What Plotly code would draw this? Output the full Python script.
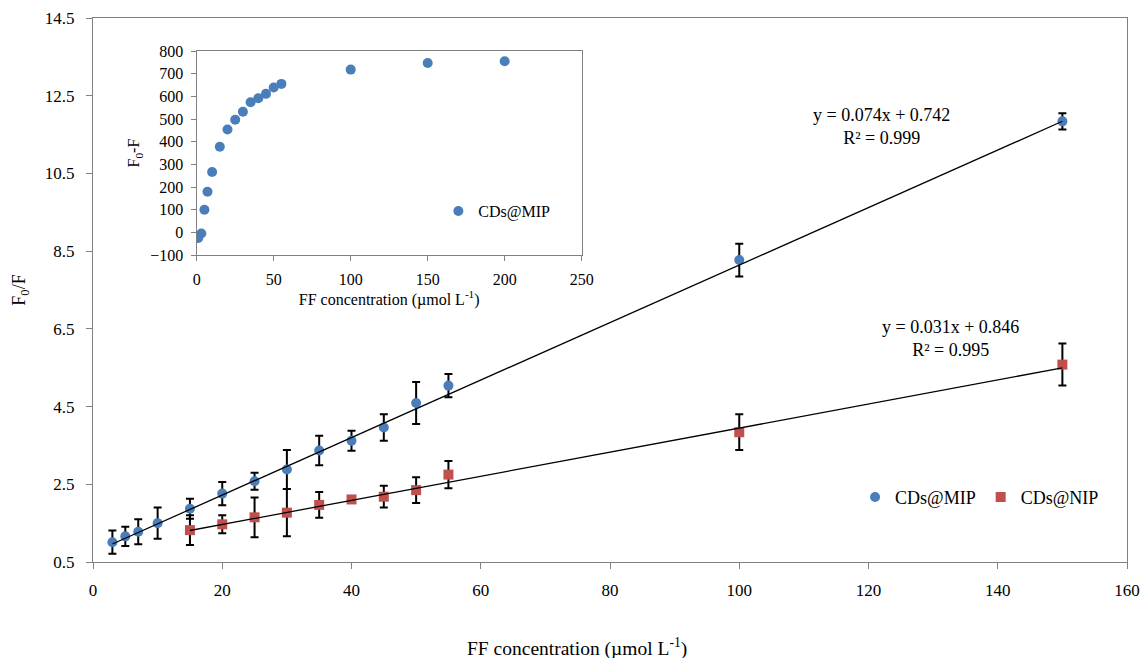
import plotly.graph_objects as go

# ---- main chart data ----
mip_x = [3, 5, 7, 10, 15, 20, 25, 30, 35, 40, 45, 50, 55, 100, 150]
mip_y = [1.01, 1.16, 1.28, 1.50, 1.87, 2.26, 2.58, 2.88, 3.37, 3.62, 3.96, 4.59, 5.04, 8.27, 11.84]
mip_err = [0.30, 0.25, 0.32, 0.40, 0.26, 0.30, 0.22, 0.50, 0.38, 0.26, 0.34, 0.54, 0.30, 0.42, 0.21]

nip_x = [15, 20, 25, 30, 35, 40, 45, 50, 55, 100, 150]
nip_y = [1.32, 1.47, 1.65, 1.77, 1.97, 2.11, 2.18, 2.35, 2.75, 3.84, 5.58]
nip_err = [0.38, 0.23, 0.51, 0.61, 0.33, 0.05, 0.28, 0.33, 0.35, 0.46, 0.54]

mip_fit = (0.074, 0.742)
nip_fit = (0.031, 0.846)

# ---- inset data ----
ins_x = [1, 3, 5, 7, 10, 15, 20, 25, 30, 35, 40, 45, 50, 55, 100, 150, 200]
ins_y = [-25, -5, 100, 179, 266, 378, 454, 497, 532, 574, 592, 611, 639, 655, 718, 747, 755]

x_ticks = [0, 20, 40, 60, 80, 100, 120, 140, 160]
y_ticks = [0.5, 2.5, 4.5, 6.5, 8.5, 10.5, 12.5, 14.5]

BLUE = "#4A7EBB"
RED = "#C0504D"
FONT = "Liberation Serif, Times New Roman, DejaVu Serif, serif"

fig = go.Figure()

fig.add_trace(go.Scatter(
    x=mip_x, y=mip_y, mode="markers", name="CDs@MIP",
    marker=dict(symbol="circle", size=10, color=BLUE),
    error_y=dict(type="data", array=mip_err, color="black", thickness=2, width=4),
    legend="legend",
))
fig.add_trace(go.Scatter(
    x=nip_x, y=nip_y, mode="markers", name="CDs@NIP",
    marker=dict(symbol="square", size=10, color=RED),
    error_y=dict(type="data", array=nip_err, color="black", thickness=2, width=4),
    legend="legend",
))

# trendlines
for xs, (a, b) in ((mip_x, mip_fit), (nip_x, nip_fit)):
    x0, x1 = min(xs), max(xs)
    fig.add_trace(go.Scatter(
        x=[x0, x1], y=[a * x0 + b, a * x1 + b], mode="lines",
        line=dict(color="black", width=1.3), showlegend=False, hoverinfo="skip",
    ))

# inset
fig.add_trace(go.Scatter(
    x=ins_x, y=ins_y, mode="markers", name="CDs@MIP",
    marker=dict(symbol="circle", size=10, color=BLUE),
    xaxis="x2", yaxis="y2", legend="legend2",
))

ax_common = dict(showgrid=False, zeroline=False, showline=True, mirror=True,
                 linecolor="#808080", linewidth=1.3, ticks="outside",
                 tickcolor="#808080", ticklen=6, tickfont=dict(family=FONT, size=17, color="black"))

fig.update_layout(
    width=1142, height=658,
    margin=dict(l=93, r=15, t=18, b=96),
    paper_bgcolor="white", plot_bgcolor="white",
    font=dict(family=FONT, color="black"),
    xaxis=dict(**ax_common, range=[0, 160], tickvals=x_ticks, ticklabelstandoff=6,
               automargin=False),
    yaxis=dict(**ax_common, range=[0.5, 14.5], tickvals=y_ticks, ticklabelstandoff=8,
               tickformat=".1f",
               title=dict(text="F<sub>0</sub>/F", font=dict(family=FONT, size=18), standoff=14),
               automargin=False),
    xaxis2=dict(showgrid=False, zeroline=False, showline=True, mirror=True,
                linecolor="#808080", linewidth=1.3, ticks="outside", tickcolor="#808080", ticklen=5,
                tickfont=dict(family=FONT, size=16, color="black"),
                domain=[0.1003, 0.4726], anchor="y2", range=[0, 250], dtick=50,
                ticklabelstandoff=5, automargin=False,
                title=dict(text="FF concentration (µmol L<sup>-1</sup>)", font=dict(family=FONT, size=16), standoff=4)),
    yaxis2=dict(showgrid=False, zeroline=False, showline=True, mirror=True,
                linecolor="#808080", linewidth=1.3, ticks="outside", tickcolor="#808080", ticklen=5,
                tickfont=dict(family=FONT, size=16, color="black"),
                domain=[0.5643, 0.9393], anchor="x2", range=[-100, 800], dtick=100,
                ticklabelstandoff=4, automargin=False,
                title=dict(text="F<sub>0</sub>-F", font=dict(family=FONT, size=16), standoff=6)),
    legend=dict(orientation="h", x=0.737, y=0.119, xanchor="left", yanchor="middle",
                bgcolor="rgba(0,0,0,0)", font=dict(family=FONT, size=18)),
    legend2=dict(x=0.334, y=0.645, xanchor="left", yanchor="middle",
                 bgcolor="rgba(0,0,0,0)", font=dict(family=FONT, size=16)),
    showlegend=True,
)

# main x-axis title (offset left of centre as in the original)
fig.add_annotation(x=0.468, y=-0.158, xref="paper", yref="paper", xanchor="center", yanchor="middle",
                   text="FF concentration (µmol L<sup>-1</sup>)", showarrow=False,
                   font=dict(family=FONT, size=19.5))

fig.add_annotation(x=0.763, y=0.801, xref="paper", yref="paper", xanchor="center", yanchor="middle",
                   text="y = 0.074x + 0.742<br>R² = 0.999", showarrow=False,
                   font=dict(family=FONT, size=18), align="center")
fig.add_annotation(x=0.829, y=0.411, xref="paper", yref="paper", xanchor="center", yanchor="middle",
                   text="y = 0.031x + 0.846<br>R² = 0.995", showarrow=False,
                   font=dict(family=FONT, size=18), align="center")

fig.write_html("out.html", config={"displayModeBar": False},
               post_script="document.body.style.margin='0';document.body.style.overflow='hidden';")
